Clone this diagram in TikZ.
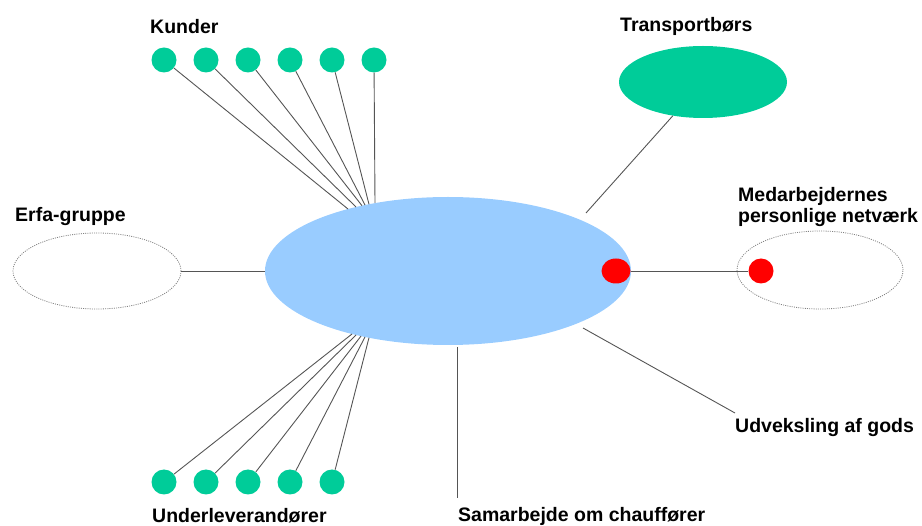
\documentclass[tikz,border=0pt]{standalone}
\usepackage{fontspec}
\setmainfont{Liberation Sans}
\usetikzlibrary{shapes.geometric}
\definecolor{cblue}{HTML}{99CCFF}
\definecolor{cgreen}{HTML}{00CC99}
\definecolor{cred}{HTML}{FF0000}
\definecolor{cline}{HTML}{555555}
\begin{document}
\begin{tikzpicture}[x=1pt,y=-1pt,
  lbl/.style={anchor=base west,inner sep=0pt,font=\fontsize{19.5}{21}\selectfont\bfseries},
  dot/.style={circle,fill=cgreen,draw=none,minimum size=25pt,inner sep=0pt},
  reddot/.style={ellipse,fill=cred,draw=none,inner sep=0pt},
  conn/.style={draw=cline,line width=0.9pt},
  dotell/.style={ellipse,draw=gray,dash pattern=on 1pt off 1.2pt,line width=0.8pt,inner sep=0pt}]
\useasboundingbox (0,0) rectangle (922,526);
% main
\node[ellipse,fill=cblue,draw=none,minimum width=366pt,minimum height=148pt,inner sep=0pt] (main) at (448,271) {};
% side ellipses
\node[dotell,minimum width=168pt,minimum height=76pt] (erfa) at (97,271) {};
\node[ellipse,fill=cgreen,draw=none,minimum width=168pt,minimum height=72pt,inner sep=0pt] (trans) at (703,82) {};
\node[dotell,minimum width=166pt,minimum height=78pt] (medell) at (820,270) {};
% labels
\node[lbl] (lk) at (150,34) {Kunder};
\node[lbl] (lu) at (152,523) {Underleverandører};
\node[lbl] (le) at (15,222) {Erfa-gruppe};
\node[lbl] (lt) at (620,32) {Transportbørs};
\node[lbl] (lm1) at (738,202) {Medarbejdernes};
\node[lbl] (lm2) at (738,223) {personlige netværk};
\node[lbl] (ls) at (458,522) {Samarbejde om chauffører};
\node[lbl] (lx) at (735,433) {Udveksling af gods};
% kunder
\foreach \i/\x/\ex/\ey in {1/164/348/209,2/206/356/207,3/248/362/205.7,4/290/365/205,5/332/369/204.3,6/374/375/203}{
  \node[dot] (k\i) at (\x,60) {};
  \coordinate (ke\i) at (\ex,\ey);
  \draw[conn] (k\i) -- (ke\i);
}
% underleverandoerer
\foreach \i/\x/\ex/\ey in {1/164/352/334,2/206/356/335,3/248/361/336.1,4/290/365/337,5/332/369/337.7}{
  \node[dot] (u\i) at (\x,482) {};
  \coordinate (ue\i) at (\ex,\ey);
  \draw[conn] (u\i) -- (ue\i);
}
% connectors
\draw[conn] (erfa.east) -- (main.west);
\coordinate (tm) at (586,213);
\draw[conn] (trans) -- (tm);
\node[reddot,minimum width=29pt,minimum height=25pt] (r1) at (616,271) {};
\node[reddot,minimum width=25pt,minimum height=25pt] (r2) at (761,271) {};
\draw[conn] (r1) -- (r2);
\coordinate (sa) at (457,347);
\coordinate (sb) at (457,498);
\draw[conn] (sa) -- (sb);
\coordinate (xa) at (583,328);
\coordinate (xb) at (735,413);
\draw[conn] (xa) -- (xb);
\end{tikzpicture}
\end{document}
